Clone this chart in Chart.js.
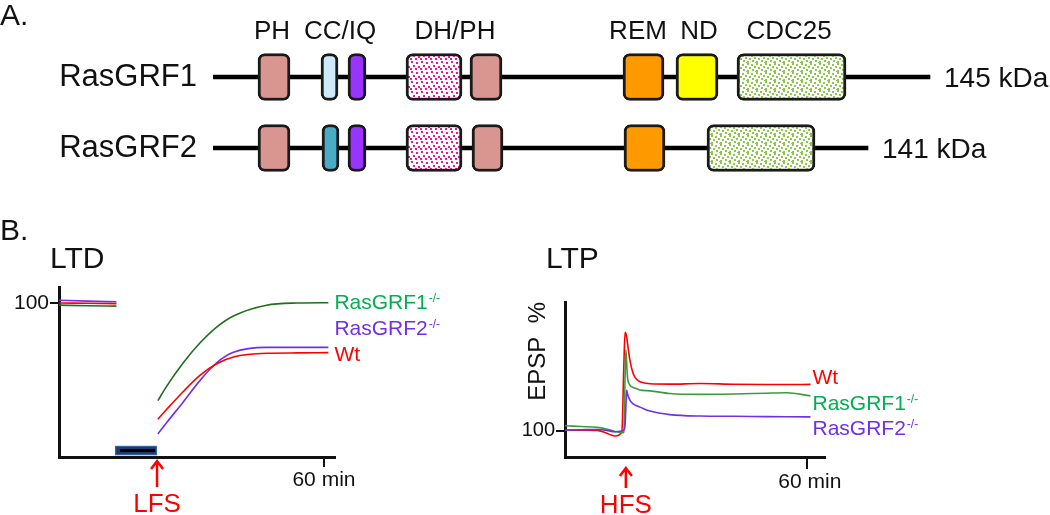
<!DOCTYPE html>
<html>
<head>
<meta charset="utf-8">
<script src="https://cdn.jsdelivr.net/npm/chart.js@4.4.1/dist/chart.umd.min.js"></script>
<style>
  body { margin: 0; background: #fff; }
  #page { position: relative; width: 1050px; height: 515px; overflow: hidden; font-family: 'Liberation Sans', Arial, sans-serif; color: #111; }
  canvas { position: absolute; }
  .lbl { position: absolute; font-size: 30px; line-height: 30px; white-space: nowrap; z-index: 2; }
</style>
</head>
<body>
<div id="page">
  <div class="lbl" style="left:0px;top:0px">A.</div>
  <div class="lbl" style="left:0px;top:215px">B.</div>
  <div class="lbl" style="left:50px;top:243px">LTD</div>
  <div class="lbl" style="left:546px;top:243px">LTP</div>
  <canvas id="domains" width="1050" height="215" style="left:0;top:0;width:1050px;height:215px"></canvas>
  <canvas id="ltd" width="480" height="285" style="left:0;top:230px;width:480px;height:285px"></canvas>
  <canvas id="ltp" width="570" height="285" style="left:480px;top:230px;width:570px;height:285px"></canvas>
</div>
<script>
const FONT = "'Liberation Sans', Arial, sans-serif";

// ---- A. domain layout (diagram units along the backbone) ----
const proteins = ['RasGRF1', 'RasGRF2'];
const proteinSizes = ['145 kDa', '141 kDa'];
const backbone = [[0, 717], [0, 655]];
const phSpan = [[45, 77], [45, 77]];
const ccSpan = [[108, 125], [109, 126]];
const iqSpan = [[135, 153], [135, 153]];
const dhSpan = [[193, 249], [193, 249]];
const ph2Span = [[257, 289], [259, 290]];
const remSpan = [[410, 451], [411, 452]];
const ndSpan = [[463, 505], null];
const cdcSpan = [[524, 633], [494, 602]];
const headerLabels = ['PH', 'CC/IQ', 'DH/PH', 'REM', 'ND', 'CDC25'];
const headerPos = [59, 127, 242, 425, 486, 576];

// ---- B. LTD traces ----
const ltdBaseTime = [0, 6.5, 13];
const ltdBaseWt = [100, 99.9, 99.8];
const ltdBaseGrf1 = [99.3, 99.1, 99.0];
const ltdBaseGrf2 = [100.9, 100.6, 100.4];
const ltdTime = [22.4, 24.4, 28.1, 31.9, 35.7, 39.5, 47, 54, 61];
const ltdWt = [62.3, 65.5, 71.2, 76.5, 80.3, 82.5, 83.7, 83.8, 83.9];
const ltdGrf1 = [68.3, 73.0, 80.5, 87.0, 92.2, 95.8, 99.3, 100, 100.1];
const ltdGrf2 = [57.5, 61.2, 67.8, 74.8, 80.6, 84.0, 85.6, 85.6, 85.6];
const ltdLabelY = [100.4, 91.9, 83.6];   // RasGRF1, RasGRF2, Wt
const lfsBar = [12.7, 22.2];
const lfsTime = 22.2;

// ---- B. LTP traces ----
const ltpTime = [0, 4, 8, 10, 12.4, 14.1, 14.6, 14.9, 15.1, 15.3, 15.5, 16.1, 16.9, 17.8, 18.6, 21.1, 26, 33.5, 41.8, 50, 55, 60.9];
const ltpWt = [100.5, 100.5, 100.3, 98.5, 96, 99.2, 150, 175, 174, 171.5, 167, 153.8, 143.6, 139, 137.3, 135.8, 135.5, 136, 135.4, 135.2, 135.2, 135.3];
const ltpGrf1 = [103.8, 103.2, 102.6, 101.5, 99.5, 98.5, 99, 140, 161.4, 152, 141, 134.8, 133, 132, 131, 130.4, 128.4, 127.7, 128, 128.6, 128.9, 126.6];
const ltpGrf2 = [100.5, 100.8, 101, 100.5, 99.2, 99.8, 100.5, 104, 118, 131, 128, 123.3, 120.5, 119, 118, 115, 112.3, 111.2, 111, 110.8, 110.7, 110.6];
const ltpLabelY = [141.1, 121.3, 101.8];  // Wt, RasGRF1, RasGRF2
const hfsTime = 15.1;

const GREEN_TXT = '#00b050', PURPLE = '#7030e8', RED = '#ff0000';

function dots(color, size, pts) {
  const c = document.createElement('canvas');
  c.width = c.height = size;
  const g = c.getContext('2d');
  g.fillStyle = '#fff';
  g.fillRect(0, 0, size, size);
  g.fillStyle = color;
  pts.forEach(p => g.fillRect(p[0], p[1], 2, 2));
  return g.createPattern(c, 'repeat');
}
const pinkDots = dots('#f0169a', 10, [[1, 1], [6, 2], [3, 5], [8, 6], [0, 8], [5, 8]]);
const greenDots = dots('#8cc84b', 9, [[0, 0], [4, 1], [7, 3], [2, 4], [5, 6], [0, 7], [8, 8]]);

function box(label, data, color, order) {
  return {
    label: label, data: data, backgroundColor: color,
    borderColor: '#1a1a1a', borderWidth: 3, borderRadius: 7, borderSkipped: false,
    barThickness: 47, grouped: false, order: order || 0
  };
}

const domainText = {
  id: 'domainText',
  afterDraw(chart) {
    const ctx = chart.ctx, x = chart.scales.x, y = chart.scales.y, area = chart.chartArea;
    ctx.save();
    ctx.fillStyle = '#111';
    ctx.font = '26px ' + FONT;
    ctx.textAlign = 'center';
    ctx.textBaseline = 'alphabetic';
    headerLabels.forEach((t, i) => ctx.fillText(t, x.getPixelForValue(headerPos[i]), area.top - 3));
    ctx.font = '28px ' + FONT;
    ctx.textAlign = 'left';
    proteinSizes.forEach((t, i) => {
      ctx.fillText(t, x.getPixelForValue(backbone[i][1]) + 14, y.getPixelForValue(i) + 10);
    });
    ctx.restore();
  }
};

new Chart(document.getElementById('domains'), {
  type: 'bar',
  data: {
    labels: proteins,
    datasets: [
      box('PH', phSpan, '#d9958f'),
      box('CC', ccSpan, ['#cdeafb', '#4aabc6']),
      box('IQ', iqSpan, '#9933ff'),
      box('DH', dhSpan, pinkDots),
      box('PH', ph2Span, '#d9958f'),
      box('REM', remSpan, '#ff9900'),
      box('ND', ndSpan, '#ffff00'),
      box('CDC25', cdcSpan, greenDots),
      { label: 'backbone', data: backbone, backgroundColor: '#000', borderWidth: 0,
        barThickness: 4, grouped: false, order: 1 }
    ]
  },
  options: {
    indexAxis: 'y',
    responsive: false, animation: false, devicePixelRatio: 1,
    layout: { padding: { top: 41.5, bottom: 31.5, left: 0, right: 0 } },
    plugins: { legend: { display: false }, tooltip: { enabled: false } },
    scales: {
      x: { min: 0, max: 837, display: false },
      y: {
        grid: { display: false }, border: { display: false },
        ticks: { font: { size: 31, family: FONT }, color: '#111', padding: 8 },
        afterFit: s => { s.width = 213; }
      }
    }
  },
  plugins: [domainText]
});

// ---------- shared helpers for panel B ----------
function pts(times, vals) { return times.map((t, i) => ({ x: t, y: vals[i] })); }

function line(data, color, width) {
  return { data: data, borderColor: color, borderWidth: width || 1.6, pointRadius: 0,
    fill: false, tension: 0.4, cubicInterpolationMode: 'monotone', spanGaps: false };
}

function drawLabels(ctx, x, yScale, names, sups, colors, yVals) {
  ctx.save();
  ctx.textAlign = 'left';
  ctx.textBaseline = 'alphabetic';
  names.forEach((n, i) => {
    const y = yScale.getPixelForValue(yVals[i]) + 7;
    ctx.fillStyle = colors[i];
    ctx.font = '21px ' + FONT;
    ctx.fillText(n, x, y);
    if (sups[i]) {
      const w = ctx.measureText(n).width;
      ctx.font = '12px ' + FONT;
      ctx.fillText(sups[i], x + w + 1, y - 7);
    }
  });
  ctx.restore();
}

function drawArrow(ctx, x, tip, tail, text, textBase) {
  ctx.save();
  ctx.strokeStyle = RED;
  ctx.fillStyle = RED;
  ctx.lineWidth = 2.5;
  ctx.beginPath();
  ctx.moveTo(x, tail); ctx.lineTo(x, tip + 1);
  ctx.moveTo(x - 6, tip + 9); ctx.lineTo(x, tip + 1); ctx.lineTo(x + 6, tip + 9);
  ctx.stroke();
  ctx.font = '26px ' + FONT;
  ctx.textAlign = 'center';
  ctx.fillText(text, x, textBase);
  ctx.restore();
}

function axisOpts(min, max, tickVals, fmt, tickLen, extra) {
  return Object.assign({
    type: 'linear', min: min, max: max,
    afterBuildTicks: a => { a.ticks = tickVals.map(v => ({ value: v })); },
    grid: { drawOnChartArea: false, tickLength: tickLen, color: '#111', lineWidth: 2 },
    border: { color: '#111', width: 3 },
    ticks: { callback: fmt, font: { size: 21, family: FONT }, color: '#111', padding: 1, maxRotation: 0 }
  }, extra);
}

// ---------- LTD ----------
const ltdGap = [{ x: 17, y: null }];
const ltdExtras = {
  id: 'ltdExtras',
  beforeDatasetsDraw(chart) {
    const ctx = chart.ctx, x = chart.scales.x, y = chart.scales.y;
    const x0 = x.getPixelForValue(lfsBar[0]), x1 = x.getPixelForValue(lfsBar[1]);
    const y0 = y.getPixelForValue(53.6), y1 = y.getPixelForValue(50.6);
    ctx.save();
    ctx.fillStyle = '#1e3c6d';
    ctx.strokeStyle = '#3a6aa8';
    ctx.lineWidth = 1;
    ctx.fillRect(x0, y0, x1 - x0, y1 - y0);
    ctx.strokeRect(x0 + 0.5, y0 + 0.5, x1 - x0 - 1, y1 - y0 - 1);
    ctx.strokeStyle = '#000';
    ctx.lineWidth = 3;
    ctx.beginPath();
    ctx.moveTo(x0 + 5, (y0 + y1) / 2); ctx.lineTo(x1 - 2, (y0 + y1) / 2);
    ctx.stroke();
    ctx.restore();
  },
  afterDraw(chart) {
    const ctx = chart.ctx, x = chart.scales.x, y = chart.scales.y, a = chart.chartArea;
    drawArrow(ctx, x.getPixelForValue(lfsTime), a.bottom + 3, a.bottom + 30, 'LFS', a.bottom + 55);
    drawLabels(ctx, x.getPixelForValue(ltdTime[ltdTime.length - 1]) + 6, y,
      ['RasGRF1', 'RasGRF2', 'Wt'], ['-/-', '-/-', ''], [GREEN_TXT, PURPLE, RED], ltdLabelY);
  }
};

new Chart(document.getElementById('ltd'), {
  type: 'line',
  data: {
    datasets: [
      line(pts(ltdBaseTime, ltdBaseWt).concat(ltdGap, pts(ltdTime, ltdWt)), RED),
      line(pts(ltdBaseTime, ltdBaseGrf2).concat(ltdGap, pts(ltdTime, ltdGrf2)), PURPLE),
      line(pts(ltdBaseTime, ltdBaseGrf1).concat(ltdGap, pts(ltdTime, ltdGrf1)), '#1f6e1f')
    ]
  },
  options: {
    responsive: false, animation: false, devicePixelRatio: 1,
    layout: { padding: { top: 57, right: 145, left: 0, bottom: 0 } },
    plugins: { legend: { display: false }, tooltip: { enabled: false } },
    scales: {
      x: axisOpts(0, 62.5, [60], v => v + ' min', 10, { afterFit: s => { s.height = 58; } }),
      y: axisOpts(50, 105.2, [100], v => String(v), 9, { afterFit: s => { s.width = 59; } })
    }
  },
  plugins: [ltdExtras]
});

// ---------- LTP ----------
const ltpExtras = {
  id: 'ltpExtras',
  afterDraw(chart) {
    const ctx = chart.ctx, x = chart.scales.x, y = chart.scales.y, a = chart.chartArea;
    drawArrow(ctx, x.getPixelForValue(hfsTime), a.bottom + 10, a.bottom + 31, 'HFS', a.bottom + 56);
    drawLabels(ctx, x.getPixelForValue(ltpTime[ltpTime.length - 1]) + 2, y,
      ['Wt', 'RasGRF1', 'RasGRF2'], ['', '-/-', '-/-'], [RED, GREEN_TXT, PURPLE], ltpLabelY);
  }
};

const ltpX = axisOpts(0, 64.5, [60], v => v + ' min', 12, { afterFit: s => { s.height = 58; } });
ltpX.ticks.labelOffset = 3;
const ltpY = axisOpts(80, 198.1, [100], v => String(v), 9, {
  afterFit: s => { s.width = 45; },
  title: { display: true, text: 'EPSP  %', align: 'end', color: '#111',
    font: { size: 24, family: FONT }, padding: { top: 4, bottom: 0 } }
});
ltpY.ticks.font = { size: 20, family: FONT };

new Chart(document.getElementById('ltp'), {
  type: 'line',
  data: {
    datasets: [
      line(pts(ltpTime, ltpGrf2), PURPLE),
      line(pts(ltpTime, ltpGrf1), '#3c9c3c'),
      line(pts(ltpTime, ltpWt), RED)
    ]
  },
  options: {
    responsive: false, animation: false, devicePixelRatio: 1,
    layout: { padding: { top: 72, right: 225, left: 40, bottom: 0 } },
    plugins: { legend: { display: false }, tooltip: { enabled: false } },
    scales: { x: ltpX, y: ltpY }
  },
  plugins: [ltpExtras]
});
</script>
</body>
</html>
